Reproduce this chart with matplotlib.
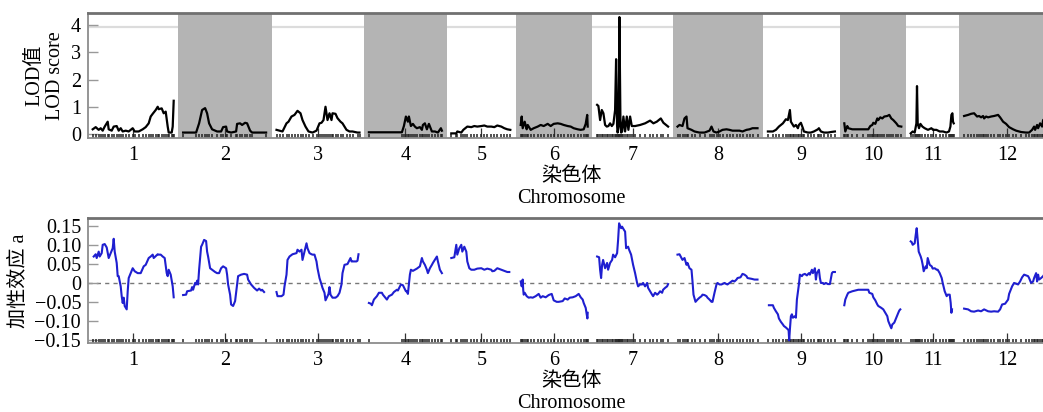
import matplotlib
matplotlib.use("Agg")
import matplotlib.pyplot as plt
import numpy as np

plt.rcParams['font.family'] = ['Liberation Serif', 'Noto Sans CJK SC', 'DejaVu Sans']
plt.rcParams['axes.unicode_minus'] = True

# ---------------- data ----------------
chrom_labels = ['1', '2', '3', '4', '5', '6', '7', '8', '9', '10', '11', '12']
chrom_len = [81, 84, 83, 73, 60, 67, 71, 81, 67, 57, 44, 86]

lod_pos = [
    [0, 3, 6, 8, 10, 12, 15, 16, 19, 21, 24, 26, 28, 30, 33, 36, 40, 42, 46, 50, 53, 56, 58, 60, 63, 65, 66, 69, 71, 73, 75, 76, 79, 80, 81],
    [0, 13, 16, 19, 22, 24, 26, 29, 34, 38, 40, 43, 44, 48, 53, 54, 57, 59, 62, 64, 67, 69, 83],
    [0, 3, 6, 10, 12, 15, 18, 21, 24, 26, 29, 32, 36, 40, 43, 45, 47, 49, 51, 53, 55, 56, 59, 61, 64, 66, 70, 73, 76, 81, 83],
    [0, 33, 35, 37, 39, 40, 42, 44, 46, 48, 51, 53, 54, 56, 58, 60, 63, 66, 69, 72, 73],
    [0, 5, 6, 10, 12, 14, 16, 20, 23, 26, 30, 33, 36, 40, 43, 46, 50, 53, 56, 59],
    [0, 1, 2, 4, 6, 7, 10, 13, 17, 20, 23, 27, 30, 33, 37, 40, 43, 47, 50, 53, 57, 60, 63, 65, 66.5, 67],
    [0, 1.3, 3, 4.7, 6.3, 8, 9.7, 11.3, 13, 14.7, 16.3, 18, 19, 20, 20.5, 21.5, 22.3, 23.3, 24, 25, 26.3, 28, 29.7, 31.3, 33, 34.7, 38, 43, 48, 53, 56.3, 59.7, 63.7, 66.3, 71],
    [0, 2, 5, 7, 9, 10, 14, 17, 22, 27, 32, 34, 36, 39, 42, 45, 49, 52, 55, 59, 62, 65, 69, 72, 75, 80],
    [0, 5, 8, 11, 15, 18, 20, 22, 23, 25, 26, 28, 30, 31, 33, 35, 36, 40, 43, 46, 50, 51, 53, 56, 60, 63, 67],
    [0, 1, 3, 4, 8, 13, 19, 24, 26, 28, 29, 31, 33, 34, 36, 38, 40, 43, 45, 47, 49, 52, 54, 57],
    [0, 2, 4, 5.7, 6.3, 7, 8.3, 9.7, 11.7, 14, 17.3, 20.7, 22.3, 25.7, 29, 32.3, 35.7, 38.3, 39.7, 40.7, 41.7, 42.3, 43],
    [0, 4, 7, 10, 13, 15, 17, 19, 20, 22, 24, 27, 30, 34, 36, 39, 42, 45, 49, 52, 57, 62, 65, 68, 70, 71, 73, 74, 76, 78, 79, 80, 83, 86],
]
lod_val = [
    [0.17, 0.25, 0.15, 0.21, 0.12, 0.27, 0.45, 0.17, 0.12, 0.27, 0.29, 0.12, 0.21, 0.09, 0.12, 0.09, 0.21, 0.09, 0.09, 0.17, 0.25, 0.39, 0.64, 0.74, 0.88, 1.0, 0.91, 0.94, 0.76, 0.82, 0.27, 0.05, 0.05, 0.27, 1.22],
    [0.05, 0.05, 0.39, 0.88, 0.95, 0.76, 0.39, 0.17, 0.09, 0.09, 0.25, 0.27, 0.09, 0.05, 0.09, 0.37, 0.39, 0.33, 0.41, 0.39, 0.12, 0.05, 0.05],
    [0.15, 0.12, 0.09, 0.39, 0.45, 0.64, 0.70, 0.85, 0.76, 0.51, 0.27, 0.09, 0.05, 0.12, 0.39, 0.41, 0.51, 1.0, 0.51, 0.76, 0.51, 0.76, 0.74, 0.58, 0.45, 0.39, 0.15, 0.09, 0.09, 0.05, 0.05],
    [0.06, 0.06, 0.29, 0.64, 0.45, 0.64, 0.29, 0.37, 0.27, 0.21, 0.25, 0.15, 0.33, 0.39, 0.17, 0.37, 0.09, 0.09, 0.05, 0.21, 0.12],
    [0.02, 0.02, 0.09, 0.05, 0.15, 0.21, 0.27, 0.25, 0.29, 0.27, 0.29, 0.31, 0.27, 0.27, 0.25, 0.31, 0.27, 0.21, 0.17, 0.15],
    [0.33, 0.64, 0.21, 0.45, 0.17, 0.33, 0.15, 0.21, 0.27, 0.33, 0.29, 0.37, 0.29, 0.37, 0.39, 0.37, 0.33, 0.29, 0.27, 0.21, 0.17, 0.15, 0.17, 0.37, 0.70, 0.27],
    [1.07, 1.03, 0.51, 0.88, 0.76, 0.33, 0.27, 0.29, 0.39, 0.29, 0.37, 0.88, 2.75, 0.30, 0.05, 0.27, 4.30, 0.60, 0.05, 0.09, 0.64, 0.09, 0.64, 0.15, 0.64, 0.29, 0.29, 0.33, 0.39, 0.49, 0.39, 0.45, 0.57, 0.41, 0.27],
    [0.27, 0.33, 0.29, 0.57, 0.64, 0.21, 0.15, 0.09, 0.05, 0.05, 0.12, 0.27, 0.09, 0.05, 0.09, 0.15, 0.17, 0.15, 0.12, 0.12, 0.12, 0.09, 0.15, 0.17, 0.21, 0.21],
    [0.09, 0.09, 0.15, 0.27, 0.39, 0.54, 0.51, 0.88, 0.45, 0.33, 0.27, 0.33, 0.21, 0.33, 0.41, 0.21, 0.09, 0.05, 0.05, 0.09, 0.17, 0.21, 0.09, 0.05, 0.05, 0.07, 0.09],
    [0.39, 0.09, 0.29, 0.21, 0.17, 0.17, 0.17, 0.17, 0.29, 0.33, 0.41, 0.37, 0.57, 0.51, 0.61, 0.57, 0.64, 0.66, 0.70, 0.57, 0.51, 0.39, 0.29, 0.27],
    [0.02, 0.09, 0.05, 0.39, 1.76, 0.39, 0.21, 0.37, 0.27, 0.21, 0.15, 0.21, 0.15, 0.15, 0.09, 0.09, 0.05, 0.09, 0.27, 0.70, 0.76, 0.45, 0.39],
    [0.66, 0.70, 0.74, 0.76, 0.64, 0.66, 0.61, 0.66, 0.57, 0.64, 0.61, 0.64, 0.66, 0.70, 0.61, 0.45, 0.37, 0.25, 0.17, 0.12, 0.07, 0.05, 0.05, 0.15, 0.27, 0.15, 0.33, 0.21, 0.39, 0.27, 0.51, 0.54, 0.55, 0.60],
]

add_pos = [
    [1, 3, 4, 6, 7, 9, 10, 12, 14, 16, 18, 20, 21, 22, 24, 25, 26, 28, 29, 30, 31, 32, 34, 35, 36, 38, 40, 42, 45, 48, 51, 53, 56, 58, 60, 61, 65, 66, 68, 70, 72, 74, 75, 76, 78, 80, 81],
    [0, 3, 4, 8, 9, 10, 12, 13, 14, 15, 16, 18, 19, 21, 23, 24, 25, 27, 29, 32, 34, 36, 38, 40, 43, 44, 45, 47, 48, 50, 52, 53, 55, 58, 61, 64, 65, 68, 71, 74, 76, 78, 79, 81],
    [0, 1, 5, 7, 8, 10, 11, 13, 16, 20, 21, 23, 25, 26, 28, 30, 31, 33, 35, 36, 38, 40, 41, 43, 45, 46, 48, 49, 51, 52, 53, 54, 56, 59, 61, 63, 65, 66, 68, 71, 74, 75, 76, 80, 81, 82],
    [0, 2, 3, 5, 8, 10, 13, 14, 18, 20, 23, 25, 28, 29, 32, 34, 37, 38, 39, 41, 42, 44, 48, 51, 53, 54, 56, 58, 59, 61, 63, 64, 68, 69, 71, 73],
    [0, 3, 5, 6, 8, 10, 11, 13, 15, 16, 18, 20, 23, 26, 30, 33, 36, 40, 41, 43, 46, 50, 53, 56, 58],
    [0, 1, 2, 2.5, 3, 4, 6, 8, 10, 12, 15, 18, 20, 22, 25, 28, 31, 33, 36, 38, 42, 44, 47, 49, 52, 55, 58, 60, 62, 63, 65, 66, 66.7, 67],
    [0, 2, 3, 4, 5, 6, 8, 10, 11, 13, 15, 16, 18, 20, 21, 22, 24, 25, 27, 28, 29, 31, 32, 34, 36, 38, 40, 41, 43, 45, 46, 48, 50, 51, 53, 55, 56, 58, 60, 61, 63, 65, 66, 68, 70, 71],
    [0, 2, 4, 5, 7, 9, 10, 12, 14, 15, 16, 18, 20, 22, 24, 25, 27, 29, 30, 32, 34, 35, 37, 39, 40, 42, 44, 47, 49, 50, 52, 54, 55, 57, 59, 60, 63, 65, 67, 69, 70, 74, 77, 80],
    [1, 5, 6, 8, 10, 11, 13, 15, 16, 18, 20, 20.7, 21.3, 22, 23, 24, 25, 27, 28, 29, 31, 32, 34, 35, 37, 39, 41, 42, 44, 45, 47, 48, 49, 51, 52, 53, 55, 56, 58, 60, 62, 64, 65, 67],
    [0, 1, 3, 4, 8, 11, 14, 18, 21, 24, 25, 28, 29, 31, 33, 34, 37, 39, 41, 43, 44, 46, 47, 48, 50, 52, 54, 55, 56],
    [0, 1, 2, 4, 5, 6, 7, 8, 10, 11, 12, 13, 15, 16, 17, 19, 21, 22, 24, 26, 27, 29, 31, 32, 34, 36, 37, 39, 40, 40.7, 41.3],
    [0, 4, 7, 10, 14, 17, 20, 24, 27, 30, 34, 36, 38, 41, 44, 45, 48, 50, 54, 56, 58, 60, 62, 64, 65, 67, 69, 70, 72, 73, 74, 75, 77, 79, 80, 83, 86],
]
add_val = [
    [0.070, 0.076, 0.066, 0.083, 0.070, 0.079, 0.101, 0.103, 0.094, 0.066, 0.079, 0.092, 0.117, 0.083, 0.053, 0.018, 0.018, -0.009, -0.035, -0.053, -0.039, -0.061, -0.070, -0.022, 0.013, 0.026, 0.039, 0.031, 0.026, 0.026, 0.044, 0.048, 0.066, 0.070, 0.075, 0.066, 0.076, 0.075, 0.075, 0.070, 0.066, 0.026, 0.018, 0.035, 0.022, -0.009, -0.038],
    [-0.032, -0.031, -0.022, -0.020, -0.011, -0.018, 0.000, -0.004, 0.006, -0.004, 0.035, 0.096, 0.101, 0.114, 0.111, 0.083, 0.070, 0.039, 0.035, 0.029, 0.026, 0.026, 0.039, 0.044, 0.039, 0.022, -0.004, -0.031, -0.057, -0.061, -0.048, -0.026, 0.018, 0.022, 0.024, 0.022, 0.009, -0.004, -0.013, -0.020, -0.015, -0.020, -0.018, -0.024],
    [-0.024, -0.035, -0.035, -0.031, -0.009, 0.022, 0.061, 0.070, 0.076, 0.079, 0.088, 0.083, 0.088, 0.061, 0.083, 0.105, 0.092, 0.079, 0.076, 0.075, 0.075, 0.057, 0.039, 0.013, -0.004, -0.013, -0.026, -0.046, -0.035, -0.029, -0.011, -0.031, -0.039, -0.039, -0.035, -0.026, -0.004, 0.026, 0.048, 0.050, 0.066, 0.057, 0.057, 0.057, 0.059, 0.076],
    [-0.053, -0.055, -0.059, -0.044, -0.035, -0.026, -0.026, -0.031, -0.044, -0.035, -0.031, -0.024, -0.018, -0.020, -0.004, -0.006, -0.022, -0.022, -0.029, 0.022, 0.035, 0.032, 0.038, 0.044, 0.066, 0.057, 0.048, 0.035, 0.026, 0.039, 0.048, 0.053, 0.070, 0.057, 0.035, 0.026],
    [0.066, 0.068, 0.101, 0.075, 0.092, 0.101, 0.083, 0.096, 0.083, 0.057, 0.039, 0.035, 0.035, 0.038, 0.039, 0.035, 0.038, 0.035, 0.031, 0.032, 0.039, 0.035, 0.032, 0.029, 0.029],
    [0.004, -0.009, 0.009, -0.018, -0.031, -0.026, -0.035, -0.039, -0.038, -0.039, -0.035, -0.029, -0.039, -0.035, -0.038, -0.032, -0.029, -0.046, -0.050, -0.050, -0.048, -0.041, -0.044, -0.039, -0.038, -0.035, -0.029, -0.038, -0.044, -0.053, -0.066, -0.083, -0.094, -0.079],
    [0.070, 0.068, 0.035, 0.013, 0.048, 0.061, 0.039, 0.053, 0.035, 0.053, 0.061, 0.075, 0.068, 0.079, 0.114, 0.158, 0.145, 0.149, 0.140, 0.136, 0.092, 0.096, 0.088, 0.075, 0.048, 0.026, 0.000, -0.009, -0.004, -0.004, 0.000, -0.009, 0.000, -0.013, -0.022, -0.031, -0.035, -0.026, -0.031, -0.029, -0.022, -0.026, -0.018, -0.013, -0.009, -0.003],
    [0.075, 0.076, 0.066, 0.061, 0.066, 0.048, 0.053, 0.039, 0.035, 0.004, -0.031, -0.050, -0.044, -0.039, -0.035, -0.031, -0.032, -0.035, -0.039, -0.044, -0.050, -0.050, -0.026, -0.004, 0.000, -0.004, -0.004, 0.000, -0.003, -0.004, 0.000, 0.004, 0.006, 0.004, 0.009, 0.013, 0.015, 0.024, 0.022, 0.018, 0.013, 0.011, 0.009, 0.009],
    [-0.059, -0.059, -0.066, -0.075, -0.083, -0.094, -0.103, -0.110, -0.114, -0.118, -0.123, -0.125, -0.152, -0.123, -0.088, -0.083, -0.092, -0.088, -0.092, -0.044, -0.004, 0.022, 0.018, 0.022, 0.024, 0.020, 0.026, 0.022, 0.035, 0.026, 0.039, 0.009, 0.026, 0.035, 0.013, 0.000, 0.000, -0.003, 0.000, -0.003, -0.003, 0.026, 0.029, 0.029],
    [-0.059, -0.044, -0.031, -0.026, -0.022, -0.020, -0.018, -0.018, -0.018, -0.018, -0.026, -0.029, -0.038, -0.046, -0.057, -0.061, -0.066, -0.070, -0.079, -0.088, -0.101, -0.114, -0.120, -0.110, -0.105, -0.092, -0.079, -0.073, -0.070],
    [0.110, 0.108, 0.101, 0.105, 0.127, 0.145, 0.114, 0.083, 0.070, 0.061, 0.048, 0.031, 0.044, 0.039, 0.066, 0.048, 0.044, 0.038, 0.039, 0.035, 0.035, 0.026, 0.013, 0.000, -0.022, -0.035, -0.031, -0.031, -0.053, -0.079, -0.070],
    [-0.068, -0.070, -0.075, -0.076, -0.073, -0.075, -0.070, -0.075, -0.076, -0.075, -0.076, -0.070, -0.057, -0.055, -0.044, -0.029, -0.009, 0.000, -0.004, 0.004, 0.015, 0.022, 0.020, 0.018, 0.013, 0.000, 0.004, 0.013, 0.026, 0.004, 0.022, 0.009, 0.013, 0.018, 0.022, 0.020, 0.025],
]

lod_ticks = [0, 1, 2, 3, 4]
add_ticks = [0.15, 0.10, 0.05, 0, -0.05, -0.10, -0.15]
add_ticklabels = ['0.15', '0.10', '0.05', '0', '\u22120.05', '\u22120.10', '\u22120.15']
lod_ref = 3.95

# ---------------- layout helpers ----------------
pad = 4.7
region_start = []
s = 0.0
for L in chrom_len:
    region_start.append(s)
    s += L + 2 * pad
x_total = s
centers = [r + pad + L / 2 for r, L in zip(region_start, chrom_len)]

W, H = 1043, 412
fig = plt.figure(figsize=(W / 100, H / 100), dpi=100)
left = 88 / W
width = x_total / W
ax1 = fig.add_axes([left, 1 - 138 / H, width, 125 / H])
ax2 = fig.add_axes([left, 1 - 343 / H, width, 125 / H])

FS = 14.5
spine_col = '#8c8c8c'

for ax in (ax1, ax2):
    ax.set_xlim(0, x_total)
    for sp in ax.spines.values():
        sp.set_color(spine_col)
        sp.set_linewidth(1.3)
    ax.spines['top'].set_color('#707070')
    ax.spines['top'].set_linewidth(2)
    ax.set_xticks(centers)
    ax.set_xticklabels(chrom_labels, fontsize=FS)
    ax.tick_params(axis='x', direction='in', length=7, width=0.9, color='#333333', pad=6)
    ax.tick_params(axis='y', direction='in', length=7, width=1.0, color='#999999', pad=5, labelsize=FS)

# ---- top panel: LOD ----
ax1.set_ylim(-0.15, 4.45)
ax1.axhline(lod_ref, color='#dcdcdc', lw=1.6, zorder=0.5)
for i, (r, L) in enumerate(zip(region_start, chrom_len)):
    if i % 2 == 1:
        ax1.axvspan(r, r + L + 2 * pad, color='#b4b4b4', lw=0, zorder=1)
for i in range(len(chrom_len)):
    off = region_start[i] + pad
    xs = np.array(lod_pos[i]) + off
    ax1.plot(xs, lod_val[i], color='black', lw=1.6, zorder=3)
    ax1.plot(xs, np.full(len(xs), -0.07), ls='none', marker='|', ms=3.5, mew=1.1,
             color='#222222', zorder=2)
ax1.set_yticks(lod_ticks)
ax1.set_yticklabels([str(t) for t in lod_ticks])
ax1.set_ylabel('LOD值\nLOD score', fontsize=FS, linespacing=1.1, va='center')
ax1.yaxis.set_label_coords(-0.044, 0.5)
ax1.set_xlabel('染色体\nChromosome', fontsize=FS, linespacing=1.2, va='center')
ax1.xaxis.set_label_coords(0.5, -0.395)

# ---- bottom panel: additive effect ----
ax2.set_ylim(-0.159, 0.172)
ax2.axhline(0, color='#777777', lw=1.0, ls=(0, (3, 3)), zorder=1)
for i in range(len(chrom_len)):
    off = region_start[i] + pad
    xs = np.array(add_pos[i]) + off
    ax2.plot(xs, add_val[i], color='#1f1fd0', lw=1.5, zorder=3)
    xr = np.array(lod_pos[i]) + off
    ax2.plot(xr, np.full(len(xr), -0.153), ls='none', marker='|', ms=3.5, mew=1.1,
             color='#222222', zorder=2)
ax2.set_yticks(add_ticks)
ax2.set_yticklabels(add_ticklabels)
ax2.set_ylabel('加性效应 a', fontsize=FS, va='center')
ax2.yaxis.set_label_coords(-0.0714, 0.5)
ax2.set_xlabel('染色体\nChromosome', fontsize=FS, linespacing=1.2, va='center')
ax2.xaxis.set_label_coords(0.5, -0.395)

fig.savefig('out.png', dpi=100)
